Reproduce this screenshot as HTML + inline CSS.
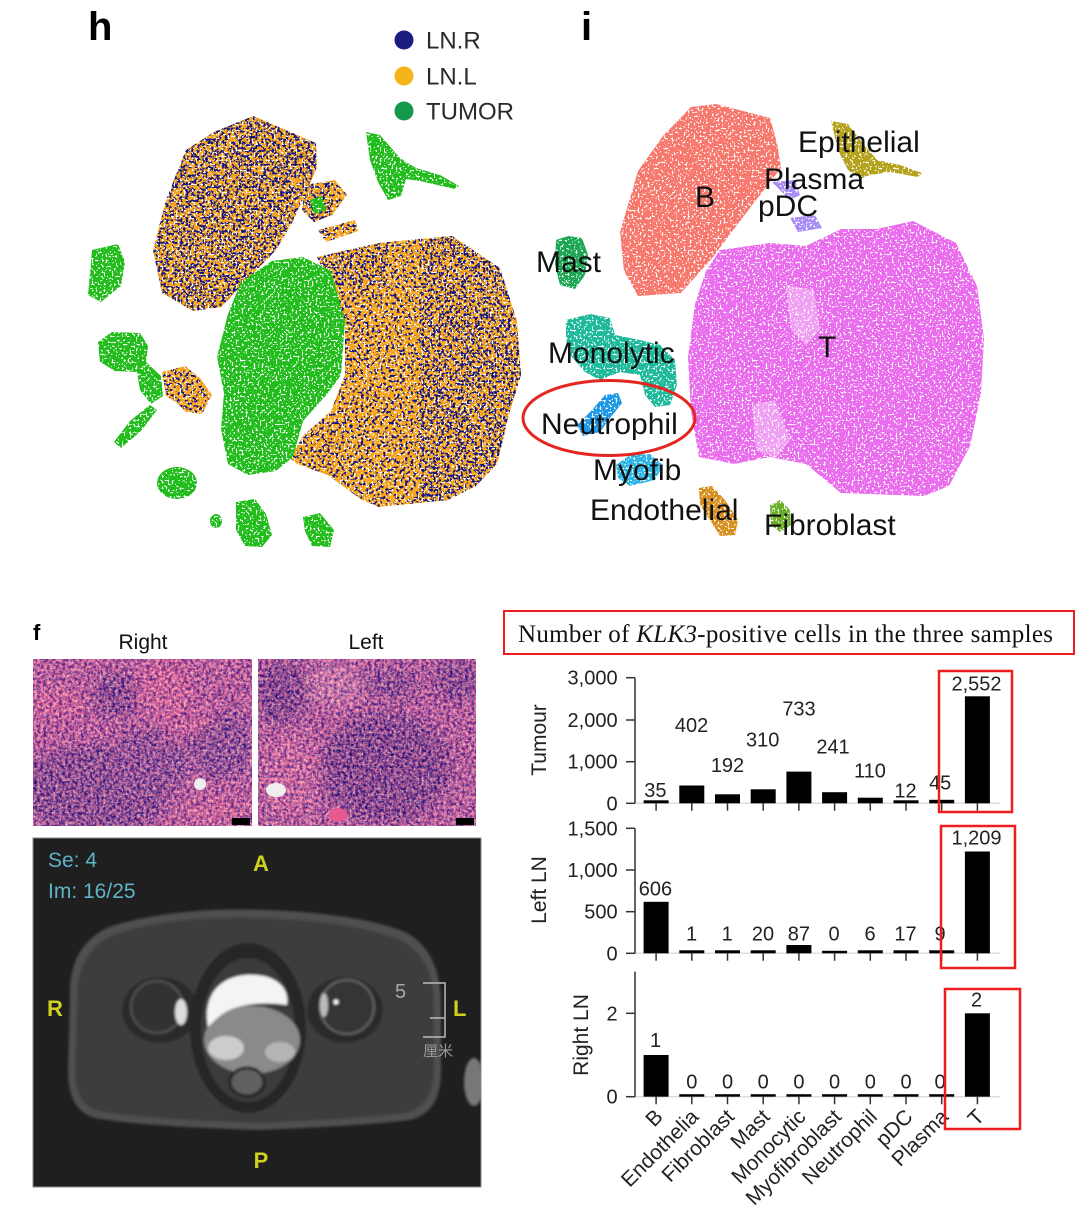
<!DOCTYPE html>
<html><head><meta charset="utf-8">
<style>html,body{margin:0;padding:0;background:#fff;}svg{display:block}</style>
</head><body>
<svg xmlns="http://www.w3.org/2000/svg" width="1080" height="1232" viewBox="0 0 1080 1232" font-family="'Liberation Sans', Arial, sans-serif">
<defs>
  <filter id="fNavy" x="0" y="0" width="1" height="1" color-interpolation-filters="sRGB">
    <feTurbulence type="fractalNoise" baseFrequency="0.36" numOctaves="1" seed="7"/>
    <feColorMatrix type="matrix" values="0 0 0 0 0.08  0 0 0 0 0.08  0 0 0 0 0.50  18 0 0 0 -9.75"/>
  </filter>
  <filter id="fNavy2" x="0" y="0" width="1" height="1" color-interpolation-filters="sRGB">
    <feTurbulence type="fractalNoise" baseFrequency="0.36" numOctaves="1" seed="29"/>
    <feColorMatrix type="matrix" values="0 0 0 0 0.08  0 0 0 0 0.08  0 0 0 0 0.50  18 0 0 0 -10.1"/>
  </filter>
  <filter id="fWhite" x="0" y="0" width="1" height="1" color-interpolation-filters="sRGB">
    <feTurbulence type="fractalNoise" baseFrequency="0.5" numOctaves="1" seed="19"/>
    <feColorMatrix type="matrix" values="0 0 0 0 1  0 0 0 0 1  0 0 0 0 1  16 0 0 0 -9.2"/>
  </filter>
  <filter id="fHisto" x="0" y="0" width="1" height="1" color-interpolation-filters="sRGB">
    <feTurbulence type="fractalNoise" baseFrequency="0.32" numOctaves="2" seed="3"/>
    <feColorMatrix type="matrix" values="2.4 0 0 0 -0.55  1.4 0 0 0 -0.37  0.5 0 0 0 0.32  0 0 0 0 1"/>
  </filter>
  <filter id="fBlur6" x="-20%" y="-20%" width="140%" height="140%"><feGaussianBlur stdDeviation="6"/></filter>
  <filter id="fBlur1" x="-5%" y="-5%" width="110%" height="110%"><feGaussianBlur stdDeviation="1.2"/></filter>
  <clipPath id="mixClip">
    <path d="M253,116 L316,143 L317,168 L293,221 L276,250 L221,307 L193,311 L162,293 L153,250 L166,200 L186,150 L214,132 L241,121 Z"/>
    <path d="M305,185 L335,180 L347,195 L332,215 L314,222 L302,210 Z"/>
    <path d="M318,230 L355,220 L358,231 L326,242 Z"/>
    <path d="M317,257 L379,243 L452,236 L500,268 L517,321 L521,375 L510,411 L497,464 L476,486 L448,500 L379,507 L362,500 L328,475 L297,464 L290,458 L303,436 L331,411 L345,375 L345,321 L324,271 Z"/>
    <path d="M162,372 L185,366 L200,378 L212,395 L202,414 L186,412 L176,402 L166,396 Z"/>
  </clipPath>
  <clipPath id="histL"><rect x="33" y="659" width="219" height="167"/></clipPath>
  <clipPath id="histR"><rect x="258" y="659" width="218" height="167"/></clipPath>
  <clipPath id="mriClip"><rect x="33" y="838" width="448" height="349"/></clipPath>
</defs>

<!-- ===== Panel h ===== -->
<text x="88" y="40" font-size="40" font-weight="bold" fill="#000">h</text>
<g clip-path="url(#mixClip)">
  <rect x="140" y="100" width="390" height="420" fill="#f8a61c"/>
  <rect x="140" y="100" width="390" height="420" filter="url(#fNavy)"/>
  <rect x="140" y="100" width="190" height="220" filter="url(#fNavy2)"/>
  <rect x="420" y="230" width="105" height="280" filter="url(#fNavy2)"/>
  <rect x="318" y="245" width="70" height="40" filter="url(#fNavy2)"/>
</g>
<g fill="#22bd1c">
  <path d="M303,257 L331,271 L345,321 L341,375 L328,393 L303,421 L293,457 L276,471 L248,475 L228,464 L221,429 L224,393 L217,357 L228,314 L241,282 L272,261 Z"/>
  <path d="M366,132 L380,135 L400,158 L416,168 L440,175 L459,186 L455,189 L420,181 L406,179 L401,196 L388,200 L378,182 L370,160 Z"/>
  <path d="M92,250 L118,244 L125,262 L121,286 L101,302 L88,295 L90,274 Z"/>
  <path d="M98,342 L112,332 L140,333 L148,346 L146,362 L161,376 L163,396 L151,404 L140,390 L137,372 L115,371 L100,362 Z"/>
  <path d="M114,442 L130,421 L150,405 L157,410 L141,431 L121,448 Z"/>
  <ellipse cx="177" cy="483" rx="20" ry="16"/>
  <path d="M236,502 L255,499 L266,514 L272,535 L262,547 L245,546 L236,530 Z"/>
  <path d="M303,517 L320,513 L334,530 L330,547 L312,546 L305,531 Z"/>
  <ellipse cx="216" cy="521" rx="6" ry="7"/>
  <path d="M310,200 L322,196 L326,210 L314,214 Z"/>
</g>
<rect x="80" y="105" width="450" height="450" filter="url(#fWhite)"/>
<circle cx="404" cy="40" r="9.5" fill="#1b1d7e"/>
<circle cx="404" cy="76" r="9.5" fill="#f4b41a"/>
<circle cx="404" cy="111" r="9.5" fill="#15984b"/>
<g font-size="24" fill="#2a2a2a">
  <text x="426" y="48.5">LN.R</text>
  <text x="426" y="84.5">LN.L</text>
  <text x="426" y="119.5">TUMOR</text>
</g>

<!-- ===== Panel i ===== -->
<text x="581" y="40" font-size="40" font-weight="bold" fill="#000">i</text>
<path fill="#f7786c" d="M716,104 L770,118 L777,143 L781,168 L756,200 L734,229 L713,257 L681,293 L638,296 L624,271 L620,232 L638,171 L663,136 L691,107 Z"/>
<path fill="#e96ded" d="M720,250 L770,243 L806,246 L841,229 L877,229 L913,221 L956,243 L977,286 L984,339 L981,393 L970,446 L949,486 L924,496 L841,493 L806,464 L770,457 L734,464 L699,457 L691,411 L688,357 L695,304 L706,271 Z"/>
<path fill="#ffffff" opacity="0.35" d="M786,285 L814,290 L820,330 L806,345 L791,330 Z"/>
<path fill="#ffffff" opacity="0.35" d="M752,405 L775,400 L790,440 L776,458 L756,450 Z"/>
<path fill="#b3a21a" d="M831,121 L848,124 L860,140 L877,160 L900,165 L922,173 L918,177 L890,172 L870,175 L860,179 L848,170 L838,150 Z"/>
<path fill="#a88cf5" d="M772,182 L795,180 L800,195 L790,200 Z"/>
<path fill="#a88cf5" d="M790,218 L815,215 L822,228 L798,232 Z"/>
<path fill="#1ea655" d="M556,240 L568,236 L582,238 L588,255 L585,275 L575,289 L560,285 L555,265 Z"/>
<path fill="#1fb99b" d="M566,320 L590,314 L610,318 L615,335 L640,340 L660,345 L675,360 L677,385 L670,405 L655,407 L645,395 L640,375 L620,372 L600,380 L585,372 L570,355 L566,340 Z"/>
<path fill="#1c98e6" d="M577,425 L592,410 L605,395 L618,393 L622,403 L610,418 L600,432 L583,436 Z"/>
<path fill="#2ab4e6" d="M616,465 L630,455 L650,454 L663,465 L655,480 L630,486 L618,478 Z"/>
<path fill="#d88e1e" d="M699,488 L712,486 L725,500 L738,520 L735,535 L720,536 L710,520 L700,505 Z"/>
<path fill="#6aae2a" d="M770,505 L780,500 L790,510 L791,525 L780,532 L771,525 Z"/>
<rect x="530" y="90" width="470" height="460" filter="url(#fWhite)"/>
<ellipse cx="609" cy="418" rx="86" ry="37.5" fill="none" stroke="#e3261f" stroke-width="3"/>
<g font-size="30" fill="#111">
  <text x="798" y="152">Epithelial</text>
  <text x="764" y="189">Plasma</text>
  <text x="758" y="216">pDC</text>
  <text x="695" y="207">B</text>
  <text x="536" y="272">Mast</text>
  <text x="548" y="363">Monolytic</text>
  <text x="818" y="357">T</text>
  <text x="541" y="434">Neutrophil</text>
  <text x="593" y="480">Myofib</text>
  <text x="590" y="520">Endothelial</text>
  <text x="764" y="535">Fibroblast</text>
</g>

<!-- ===== Panel f ===== -->
<text x="33" y="640" font-size="22" font-weight="bold" fill="#000">f</text>
<text x="143" y="649" font-size="21" text-anchor="middle" fill="#111">Right</text>
<text x="366" y="649" font-size="21" text-anchor="middle" fill="#111">Left</text>

<g clip-path="url(#histL)">
  <rect x="33" y="659" width="219" height="167" fill="#c45aa0"/>
  <g filter="url(#fBlur6)">
    <ellipse cx="117" cy="695" rx="25" ry="22" fill="#5e2f88"/>
    <ellipse cx="95" cy="790" rx="75" ry="45" fill="#62348a"/>
    <ellipse cx="150" cy="762" rx="40" ry="35" fill="#6e3d92"/>
    <ellipse cx="222" cy="745" rx="32" ry="35" fill="#6e3d92"/>
    <ellipse cx="165" cy="690" rx="28" ry="30" fill="#f0689c"/>
    <ellipse cx="58" cy="702" rx="30" ry="14" fill="#f0689c"/>
    <ellipse cx="215" cy="812" rx="35" ry="12" fill="#ea6a9c"/>
    <ellipse cx="190" cy="725" rx="30" ry="8" fill="#e8629a" transform="rotate(-25 190 725)"/>
  </g>
  <rect x="33" y="659" width="219" height="167" filter="url(#fHisto)" opacity="0.6"/>
  <rect x="33" y="659" width="219" height="167" filter="url(#fWhite)" opacity="0.35"/>
  <ellipse cx="200" cy="784" rx="6" ry="6" fill="#eeeeee"/>
  <rect x="232" y="818" width="18" height="7" fill="#000"/>
</g>
<g clip-path="url(#histR)">
  <rect x="258" y="659" width="218" height="167" fill="#bc5aa0"/>
  <g filter="url(#fBlur6)">
    <ellipse cx="282" cy="693" rx="26" ry="32" fill="#582c84"/>
    <ellipse cx="385" cy="768" rx="65" ry="55" fill="#562b82"/>
    <ellipse cx="456" cy="680" rx="22" ry="20" fill="#5e3088"/>
    <ellipse cx="390" cy="684" rx="30" ry="14" fill="#66368c"/>
    <ellipse cx="290" cy="775" rx="28" ry="45" fill="#e070a8"/>
    <ellipse cx="335" cy="685" rx="28" ry="22" fill="#e390bb"/>
  </g>
  <rect x="258" y="659" width="218" height="167" filter="url(#fHisto)" opacity="0.6"/>
  <rect x="258" y="659" width="218" height="167" filter="url(#fWhite)" opacity="0.35"/>
  <ellipse cx="276" cy="790" rx="10" ry="7" fill="#eeeeee"/>
  <ellipse cx="338" cy="815" rx="9" ry="7" fill="#e65a90"/>
  <rect x="456" y="818" width="18" height="7" fill="#000"/>
</g>

<!-- MRI -->
<g clip-path="url(#mriClip)">
  <rect x="33" y="838" width="448" height="349" fill="#1f1f1f"/>
  <g filter="url(#fBlur1)">
    <path fill="#505050" d="M70,1000 C68,960 85,935 115,925 C160,912 210,908 265,910 C320,912 370,918 405,932 C430,945 440,970 441,1000 L441,1075 C440,1100 430,1115 410,1120 C360,1126 300,1128 260,1130 C210,1128 140,1126 95,1118 C75,1112 68,1095 68,1070 Z"/>
    <path fill="#3d3d3d" d="M77,1000 C76,965 92,942 118,933 C160,920 210,916 265,918 C318,920 365,926 398,939 C423,951 433,972 434,1000 L434,1073 C433,1095 424,1108 406,1113 C358,1119 300,1121 260,1123 C210,1121 142,1119 98,1111 C82,1106 75,1092 75,1070 Z"/>
    <ellipse cx="160" cy="1010" rx="38" ry="33" fill="#2c2c2c"/>
    <ellipse cx="345" cy="1010" rx="38" ry="33" fill="#2c2c2c"/>
    <ellipse cx="248" cy="1028" rx="58" ry="85" fill="#282828"/>
    <ellipse cx="248" cy="1030" rx="47" ry="72" fill="#3a3a3a"/>
    <ellipse cx="252" cy="1040" rx="48" ry="34" fill="#8a8a8a"/>
    <ellipse cx="226" cy="1048" rx="18" ry="12" fill="#cccccc"/>
    <ellipse cx="280" cy="1052" rx="15" ry="10" fill="#b5b5b5"/>
    <path fill="#f4f4f4" d="M208,1027 C203,1000 215,978 245,975 C272,973 290,985 287,1005 C270,1002 250,1003 235,1008 C222,1012 215,1020 208,1027 Z"/>
    <ellipse cx="247" cy="1082" rx="17" ry="14" fill="#606060" stroke="#222" stroke-width="3"/>
    <circle cx="157" cy="1007" r="26" fill="#333333" stroke="#555" stroke-width="2"/>
    <ellipse cx="181" cy="1012" rx="6" ry="13" fill="#dddddd"/>
    <circle cx="347" cy="1007" r="27" fill="#363636" stroke="#666" stroke-width="2"/>
    <ellipse cx="324" cy="1005" rx="4" ry="12" fill="#bbbbbb"/>
    <circle cx="336" cy="1002" r="2.5" fill="#ffffff"/>
    <ellipse cx="474" cy="1082" rx="10" ry="24" fill="#777777"/>
  </g>
  <g font-size="21" fill="#5fb3c6">
    <text x="48" y="867">Se: 4</text>
    <text x="48" y="898">Im: 16/25</text>
  </g>
  <g font-size="22" font-weight="bold" fill="#d0d01e">
    <text x="261" y="871" text-anchor="middle">A</text>
    <text x="47" y="1016">R</text>
    <text x="453" y="1016">L</text>
    <text x="261" y="1168" text-anchor="middle">P</text>
  </g>
  <text x="395" y="998" font-size="20" fill="#aaaaaa">5</text>
  <path d="M423,983 H445 V1037 H423 M430,1018 H445" stroke="#bbbbbb" stroke-width="1.5" fill="none"/>
  <text x="423" y="1056" font-size="15" fill="#999999" font-family="'Liberation Sans','Noto Sans CJK SC',sans-serif">厘米</text>
</g>
<rect x="33" y="838" width="448" height="349" fill="none" stroke="#888" stroke-width="1"/>

<!-- ===== Bar chart ===== -->
<rect x="504" y="611" width="570" height="43" fill="none" stroke="#ee1c1c" stroke-width="2"/>
<text x="518" y="642" font-size="25" font-family="'Liberation Serif','Times New Roman',serif" fill="#111" textLength="535" lengthAdjust="spacing">Number of <tspan font-style="italic">KLK3</tspan>-positive  cells in the three samples</text>

<g stroke="#dddddd" stroke-width="1.5">
  <line x1="635" y1="803.3" x2="1000" y2="803.3"/>
  <line x1="635" y1="953.3" x2="1000" y2="953.3"/>
  <line x1="635" y1="1096.7" x2="1000" y2="1096.7"/>
</g>
<g stroke="#333" stroke-width="1.5" fill="none">
  <line x1="635" y1="677.7" x2="635" y2="803.3"/>
  <line x1="626" y1="677.7" x2="635" y2="677.7"/>
  <line x1="626" y1="720" x2="635" y2="720"/>
  <line x1="626" y1="761.7" x2="635" y2="761.7"/>
  <line x1="626" y1="803.3" x2="635" y2="803.3"/>
  <line x1="635" y1="828.3" x2="635" y2="953.3"/>
  <line x1="626" y1="828.3" x2="635" y2="828.3"/>
  <line x1="626" y1="870" x2="635" y2="870"/>
  <line x1="626" y1="911.7" x2="635" y2="911.7"/>
  <line x1="626" y1="953.3" x2="635" y2="953.3"/>
  <line x1="635" y1="971.7" x2="635" y2="1096.7"/>
  <line x1="626" y1="1013.3" x2="635" y2="1013.3"/>
  <line x1="626" y1="1096.7" x2="635" y2="1096.7"/>
</g>
<g stroke="#333" stroke-width="1.5">
  <path d="M656.1,803.3v7.5 M691.8,803.3v7.5 M727.5,803.3v7.5 M763.2,803.3v7.5 M798.9,803.3v7.5 M834.6,803.3v7.5 M870.3,803.3v7.5 M906,803.3v7.5 M941.7,803.3v7.5 M977.4,803.3v7.5"/>
  <path d="M656.1,953.3v7.5 M691.8,953.3v7.5 M727.5,953.3v7.5 M763.2,953.3v7.5 M798.9,953.3v7.5 M834.6,953.3v7.5 M870.3,953.3v7.5 M906,953.3v7.5 M941.7,953.3v7.5 M977.4,953.3v7.5"/>
  <path d="M656.1,1096.7v7.5 M691.8,1096.7v7.5 M727.5,1096.7v7.5 M763.2,1096.7v7.5 M798.9,1096.7v7.5 M834.6,1096.7v7.5 M870.3,1096.7v7.5 M906,1096.7v7.5 M941.7,1096.7v7.5 M977.4,1096.7v7.5"/>
</g>
<g font-size="20" fill="#222" text-anchor="end">
  <text x="617.6" y="684.7">3,000</text>
  <text x="617.6" y="727">2,000</text>
  <text x="617.6" y="768.7">1,000</text>
  <text x="617.6" y="810.3">0</text>
  <text x="617.6" y="835.3">1,500</text>
  <text x="617.6" y="877">1,000</text>
  <text x="617.6" y="918.7">500</text>
  <text x="617.6" y="960.3">0</text>
  <text x="617.6" y="1020.3">2</text>
  <text x="617.6" y="1103.7">0</text>
</g>
<g font-size="21" fill="#222" text-anchor="middle">
  <text transform="translate(546,740) rotate(-90)">Tumour</text>
  <text transform="translate(546,890) rotate(-90)">Left LN</text>
  <text transform="translate(588,1035) rotate(-90)">Right LN</text>
</g>
<g fill="#000">
  <rect x="643.6" y="800.3" width="25" height="3"/>
  <rect x="679.3" y="785.5" width="25" height="17.8"/>
  <rect x="715" y="794.3" width="25" height="9"/>
  <rect x="750.7" y="789.3" width="25" height="14"/>
  <rect x="786.4" y="771.6" width="25" height="31.7"/>
  <rect x="822.1" y="792.2" width="25" height="11.1"/>
  <rect x="857.8" y="797.7" width="25" height="5.6"/>
  <rect x="893.5" y="800.3" width="25" height="3"/>
  <rect x="929.2" y="799.8" width="25" height="3.5"/>
  <rect x="964.9" y="696.3" width="25" height="107"/>

  <rect x="643.6" y="901.8" width="25" height="51.5"/>
  <rect x="679.3" y="950.3" width="25" height="3"/>
  <rect x="715" y="950.3" width="25" height="3"/>
  <rect x="750.7" y="950.3" width="25" height="3"/>
  <rect x="786.4" y="945" width="25" height="8.3"/>
  <rect x="822.1" y="950.8" width="25" height="2.5"/>
  <rect x="857.8" y="950.3" width="25" height="3"/>
  <rect x="893.5" y="950.3" width="25" height="3"/>
  <rect x="929.2" y="950.3" width="25" height="3"/>
  <rect x="964.9" y="851.5" width="25" height="101.8"/>

  <rect x="643.6" y="1055" width="25" height="41.7"/>
  <rect x="679.3" y="1094.2" width="25" height="2.5"/>
  <rect x="715" y="1094.2" width="25" height="2.5"/>
  <rect x="750.7" y="1094.2" width="25" height="2.5"/>
  <rect x="786.4" y="1094.2" width="25" height="2.5"/>
  <rect x="822.1" y="1094.2" width="25" height="2.5"/>
  <rect x="857.8" y="1094.2" width="25" height="2.5"/>
  <rect x="893.5" y="1094.2" width="25" height="2.5"/>
  <rect x="929.2" y="1094.2" width="25" height="2.5"/>
  <rect x="964.9" y="1013.3" width="25" height="83.4"/>
</g>
<g font-size="20" fill="#222" text-anchor="middle">
  <text x="655.4" y="797">35</text>
  <text x="691.6" y="732">402</text>
  <text x="727.5" y="772">192</text>
  <text x="762.7" y="746.3">310</text>
  <text x="799" y="715.3">733</text>
  <text x="833" y="753.7">241</text>
  <text x="870" y="777.7">110</text>
  <text x="905.5" y="797.7">12</text>
  <text x="940.2" y="789.7">45</text>
  <text x="976.5" y="690.3">2,552</text>

  <text x="655.4" y="895.3">606</text>
  <text x="691.6" y="940.3">1</text>
  <text x="727.2" y="940.3">1</text>
  <text x="763" y="940.3">20</text>
  <text x="798.9" y="940.3">87</text>
  <text x="834.1" y="940.3">0</text>
  <text x="870" y="940.3">6</text>
  <text x="905.5" y="940.3">17</text>
  <text x="940" y="940.3">9</text>
  <text x="976.5" y="844.3">1,209</text>

  <text x="655.5" y="1047">1</text>
  <text x="691.8" y="1088.7">0</text>
  <text x="727.5" y="1088.7">0</text>
  <text x="763.2" y="1088.7">0</text>
  <text x="798.9" y="1088.7">0</text>
  <text x="834.6" y="1088.7">0</text>
  <text x="870.3" y="1088.7">0</text>
  <text x="906" y="1088.7">0</text>
  <text x="940" y="1088.7">0</text>
  <text x="976.6" y="1006.3">2</text>
</g>
<g font-size="21" fill="#222" text-anchor="end">
  <text x="664.1" y="1118" transform="rotate(-45 664.1 1118)">B</text>
  <text x="699.8" y="1118" transform="rotate(-45 699.8 1118)">Endothelia</text>
  <text x="735.5" y="1118" transform="rotate(-45 735.5 1118)">Fibroblast</text>
  <text x="771.2" y="1118" transform="rotate(-45 771.2 1118)">Mast</text>
  <text x="806.9" y="1118" transform="rotate(-45 806.9 1118)">Monocytic</text>
  <text x="842.6" y="1118" transform="rotate(-45 842.6 1118)">Myofibroblast</text>
  <text x="878.3" y="1118" transform="rotate(-45 878.3 1118)">Neutrophil</text>
  <text x="914" y="1118" transform="rotate(-45 914 1118)">pDC</text>
  <text x="949.7" y="1118" transform="rotate(-45 949.7 1118)">Plasma</text>
  <text x="985.4" y="1118" transform="rotate(-45 985.4 1118)">T</text>
</g>
<g fill="none" stroke="#ee1c1c" stroke-width="2.5">
  <rect x="939" y="671" width="73" height="141"/>
  <rect x="941" y="826" width="74" height="142"/>
  <rect x="945" y="989" width="75" height="140"/>
</g>
</svg>
</body></html>
